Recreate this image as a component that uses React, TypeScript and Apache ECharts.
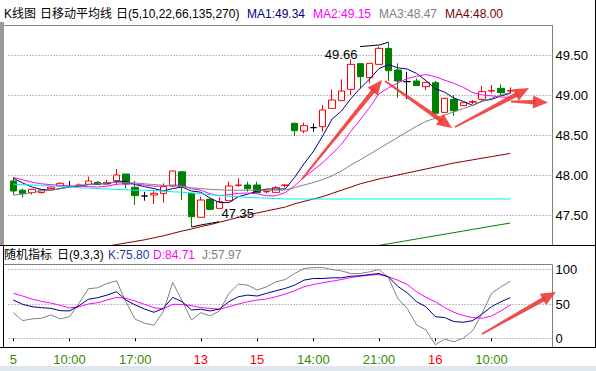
import React, { useEffect, useRef } from "react";
import * as echarts from "echarts";

// ---------- data ----------
const slotCount = 58;
const tickIndex = [0, 6, 13, 20, 26, 32, 39, 45, 51];
const tickText = ["5", "10:00", "17:00", "13", "15", "14:00", "21:00", "16", "10:00"];
const tickIsDate = [false, false, false, true, true, false, false, true, false];

const openP = [47.925, 47.81, 47.78, 47.78, 47.83, 47.862, 47.855, 47.865, 47.884, 47.908, 47.888, 47.929, 48.0125, 47.846, 47.7375,
  47.75, 47.771, 47.8625, 48.04, 47.771, 47.471, 47.696, 47.583, 47.679, 47.87, 47.875, 47.875, 47.79, 47.783, 47.87,
  48.646, 48.55, 48.592, 48.604, 48.833, 48.929, 49.071, 49.392, 49.217, 49.383, 49.583, 49.3125, 49.167,
  49.175, 49.104, 49.154, 48.783, 48.946, 48.867, 48.91, 48.946, 49.05, 49.083, 49.05];
const closeP = [47.80, 47.77, 47.82, 47.8125, 47.85, 47.896, 47.855, 47.875, 47.925, 47.884, 47.908, 48.0, 47.8875, 47.742, 47.7375,
  47.771, 47.854, 48.05, 47.854, 47.479, 47.6875, 47.571, 47.667, 47.8625, 47.875, 47.829, 47.779, 47.796, 47.842, 47.875,
  48.554, 48.617, 48.592, 48.8125, 48.9375, 49.05, 49.383, 49.229, 49.396, 49.583, 49.304, 49.175, 49.167,
  49.117, 49.158, 48.771, 48.958, 48.804, 48.904, 48.917, 49.042, 49.055, 49.029, 49.055];
const lowP = [47.75, 47.72, 47.755, 47.767, 47.83, 47.862, 47.85, 47.855, 47.884, 47.884, 47.888, 47.875, 47.833, 47.625, 47.679,
  47.6375, 47.654, 47.85, 47.6875, 47.35, 47.471, 47.56, 47.583, 47.679, 47.854, 47.792, 47.779, 47.77, 47.783, 47.842,
  48.4875, 48.52, 48.54, 48.54, 48.833, 48.929, 49.0, 49.083, 49.146, 49.383, 49.175, 48.967, 48.95,
  49.117, 49.0625, 48.771, 48.783, 48.7375, 48.867, 48.8875, 48.93, 49.02, 49.0, 49.02];
const highP = [47.97, 47.83, 47.82, 47.8125, 47.86, 47.91, 47.925, 47.895, 47.98, 47.925, 47.9375, 48.075, 48.0125, 47.925, 47.79,
  47.8125, 47.896, 48.05, 48.05, 47.771, 47.729, 47.71, 47.72, 47.917, 47.958, 47.917, 47.917, 47.8125, 47.8625, 47.883,
  48.654, 48.654, 48.646, 48.875, 49.07, 49.196, 49.446, 49.392, 49.396, 49.604, 49.66, 49.396, 49.29,
  49.208, 49.158, 49.175, 48.967, 49.0, 48.904, 48.9375, 49.1125, 49.125, 49.133, 49.096];

const ma5 = [47.96, 47.90, 47.85, 47.82, 47.81, 47.83, 47.85, 47.86, 47.88, 47.89, 47.89, 47.92, 47.92, 47.88, 47.855,
  47.83, 47.80, 47.83, 47.85, 47.80, 47.785, 47.71, 47.655, 47.655, 47.73, 47.76, 47.80, 47.825, 47.825, 47.825,
  47.97, 48.14, 48.295, 48.49, 48.70, 48.80, 48.955, 49.085, 49.20, 49.33, 49.38, 49.34, 49.325,
  49.27, 49.18, 49.08, 49.035, 48.96, 48.92, 48.87, 48.925, 48.945, 48.99, 49.02];
const ma10 = [47.97, 47.94, 47.91, 47.89, 47.88, 47.87, 47.865, 47.86, 47.855, 47.85, 47.86, 47.885, 47.89, 47.885, 47.875,
  47.86, 47.86, 47.875, 47.87, 47.83, 47.81, 47.765, 47.74, 47.755, 47.77, 47.775, 47.765, 47.74, 47.74, 47.78,
  47.865, 47.97, 48.06, 48.155, 48.265, 48.385, 48.545, 48.69, 48.845, 49.015, 49.09, 49.15, 49.205,
  49.235, 49.255, 49.23, 49.185, 49.145, 49.095, 49.03, 49.0, 48.99, 48.975, 48.97];
const ma22 = [47.75, 47.76, 47.78, 47.80, 47.81, 47.83, 47.85, 47.87, 47.88, 47.89, 47.90, 47.91, 47.905, 47.90, 47.89,
  47.88, 47.87, 47.865, 47.855, 47.84, 47.83, 47.82, 47.815, 47.81, 47.81, 47.81, 47.81, 47.81, 47.81, 47.813,
  47.842, 47.875, 47.906, 47.943, 47.99, 48.05, 48.125, 48.19, 48.26, 48.33, 48.40, 48.47, 48.54,
  48.61, 48.67, 48.71, 48.75, 48.79, 48.83, 48.87, 48.92, 48.96, 49.0, 49.03];
const ma66 = [null, null, null, null, null, null, null, null, null, null, 47.11, 47.13, 47.15, 47.17, 47.19,
  47.215, 47.24, 47.27, 47.30, 47.325, 47.355, 47.38, 47.41, 47.44, 47.47, 47.50, 47.525, 47.55, 47.575, 47.60,
  47.64, 47.67, 47.70, 47.73, 47.77, 47.81, 47.85, 47.89, 47.92, 47.95, 47.975, 48.0, 48.025,
  48.05, 48.075, 48.10, 48.125, 48.15, 48.17, 48.19, 48.21, 48.23, 48.25, 48.27];
const ma135 = [47.885, 47.88, 47.875, 47.87, 47.865, 47.86, 47.85, 47.84, 47.835, 47.83, 47.825, 47.82, 47.815, 47.81, 47.81,
  47.805, 47.80, 47.79, 47.785, 47.775, 47.765, 47.755, 47.745, 47.735, 47.73, 47.72, 47.715, 47.71, 47.705, 47.70,
  47.70, 47.70, 47.70, 47.70, 47.70, 47.70, 47.70, 47.70, 47.70, 47.70, 47.70, 47.70, 47.70,
  47.70, 47.70, 47.70, 47.70, 47.70, 47.70, 47.70, 47.70, 47.70, 47.70, 47.70];
const ma270 = [null, null, null, null, null, null, null, null, null, null, null, null, null, null, null,
  null, null, null, null, null, null, null, null, null, null, null, null, null, null, null,
  null, null, null, null, null, 47.04, 47.06, 47.08, 47.10, 47.12, 47.14, 47.16, 47.18,
  47.20, 47.22, 47.24, 47.26, 47.28, 47.30, 47.32, 47.34, 47.36, 47.38, 47.40];

const kLine = [55.8, 49.5, 46.1, 44.7, 43.7, 40.3, 39.9, 47.5, 56.8, 59.2, 63.0, 67.9, 55.8, 48.6, 42.8,
  37.9, 43.7, 59.7, 53.4, 41.3, 42.3, 39.9, 42.8, 53.4, 60.6, 63.0, 61.6, 65.5, 69.3, 72.7,
  77.5, 84.8, 87.2, 87.2, 88.2, 88.2, 90.6, 91.1, 93.0, 94.4, 89.6, 75.8, 66.4,
  53.4, 46.1, 31.6, 30.2, 24.4, 23.4, 25.8, 35.5, 46.1, 53.4, 59.2];
const dLine = [65.5, 61.6, 57.2, 53.9, 51.4, 48.1, 44.3, 45.8, 50.0, 51.9, 55.8, 59.7, 58.2, 54.3, 49.5,
  44.7, 42.8, 49.5, 49.5, 47.6, 44.7, 43.7, 42.3, 46.1, 50.0, 53.4, 55.8, 57.2, 60.6, 64.5,
  69.3, 75.1, 78.5, 80.9, 83.3, 85.7, 88.6, 90.6, 92.0, 93.0, 89.6, 84.7, 78.5,
  67.9, 59.7, 53.4, 44.7, 37.9, 33.1, 30.2, 29.2, 32.6, 39.9, 48.6];
const jLine = [37.4, 25.8, 28.3, 29.2, 34.0, 28.3, 31.6, 51.0, 72.2, 73.7, 80.0, 83.8, 53.4, 27.8, 22.0,
  19.1, 38.9, 81.4, 54.8, 26.8, 37.4, 32.6, 39.9, 65.5, 79.0, 77.5, 70.3, 75.1, 82.4, 85.7,
  94.4, 101.7, 103.1, 103.1, 100.2, 98.3, 94.4, 94.4, 96.9, 100.2, 88.6, 58.0, 43.7,
  19.6, 12.3, -9.4, -1.2, -5.0, 0.2, 11.4, 36.5, 65.5, 75.1, 83.3];

const priceTicks = [47.5, 48, 48.5, 49, 49.5];
const kdjTicks = [0, 50, 100];

const titleMain = [
  { text: "K线图", color: "#000000" },
  { text: "日移动平均线", color: "#000000" },
  { text: "日(5,10,22,66,135,270)", color: "#000000" },
  { text: "MA1:49.34", color: "#000080" },
  { text: "MA2:49.15", color: "#ff00ff" },
  { text: "MA3:48.47", color: "#808080" },
  { text: "MA4:48.00", color: "#800000" },
];
const titleKdj = [
  { text: "随机指标", color: "#000000" },
  { text: "日(9,3,3)", color: "#000000" },
  { text: "K:75.80", color: "#1a3a9a" },
  { text: "D:84.71", color: "#ff00ff" },
  { text: "J:57.97", color: "#808080" },
];

// ---------- layout constants ----------
const FONT = "'Liberation Sans', 'Noto Sans CJK SC', sans-serif";
const GRID_LEFT = 8.6;
const GRID_W = 543.9;
const titleMainX = [4, 40, 116, 247, 313, 379, 445];
const titleKdjX = [4, 57, 108, 153, 202];
const ARROW = "rgba(240,58,58,0.9)";
const arrows = [
  [302, 179, 382, 80],
  [385, 81, 452, 128],
  [455, 127, 529, 88],
  [511, 101.5, 548, 102.5],
  [482, 334, 556, 292],
];

function arrowShapes(x1: number, y1: number, x2: number, y2: number) {
  const dx = x2 - x1, dy = y2 - y1;
  const len = Math.hypot(dx, dy);
  const ux = dx / len, uy = dy / len;
  const nx = -uy, ny = ux;
  const headLen = 15, headHalf = 6.5;
  const bx = x2 - ux * headLen, by = y2 - uy * headLen;
  const sx = x2 - ux * (headLen - 3), sy = y2 - uy * (headLen - 3);
  const w0 = 0.9, w1 = 2.3;
  return [
    {
      type: "polygon", z: 100, silent: true,
      shape: { points: [[x1 + nx * w0, y1 + ny * w0], [sx + nx * w1, sy + ny * w1], [sx - nx * w1, sy - ny * w1], [x1 - nx * w0, y1 - ny * w0]] },
      style: { fill: ARROW },
    },
    {
      type: "polygon", z: 100, silent: true,
      shape: { points: [[x2, y2], [bx + nx * headHalf, by + ny * headHalf], [bx - nx * headHalf, by - ny * headHalf]] },
      style: { fill: ARROW },
    },
  ];
}

function line(x1: number, y1: number, x2: number, y2: number, color: string) {
  return { type: "line", z: 50, silent: true, shape: { x1, y1, x2, y2 }, style: { stroke: color, lineWidth: 1 } };
}

export default function App() {
  const ref = useRef<HTMLDivElement>(null);

  useEffect(() => {
    if (!ref.current) return;
    const chart = echarts.init(ref.current, undefined, { renderer: "svg" });
    const categories = Array.from({ length: slotCount }, (_, i) => String(i));
    const candleData = openP.map((o, i) => [o, closeP[i], lowP[i], highP[i]]);
    const tickSet = new Set(tickIndex);

    const maSeries = (name: string, data: (number | null)[], color: string) => ({
      name, type: "line", xAxisIndex: 0, yAxisIndex: 0, data, showSymbol: false, symbol: "none",
      lineStyle: { color, width: 1 }, z: 5, connectNulls: false,
    });
    const kdjSeries = (name: string, data: number[], color: string) => ({
      name, type: "line", xAxisIndex: 1, yAxisIndex: 1, data, showSymbol: false, symbol: "none",
      lineStyle: { color, width: 1 }, z: 5,
    });

    chart.setOption({
      animation: false,
      backgroundColor: "#ffffff",
      grid: [
        { left: GRID_LEFT, top: 25, width: GRID_W, height: 220 },
        { left: GRID_LEFT, top: 264.5, width: GRID_W, height: 83.2 },
      ],
      xAxis: [
        {
          type: "category", gridIndex: 0, data: categories, boundaryGap: true,
          axisLine: { show: false }, axisTick: { show: false }, axisLabel: { show: false }, splitLine: { show: false },
        },
        {
          type: "category", gridIndex: 1, data: categories, boundaryGap: true,
          axisLine: { show: false },
          axisTick: { show: true, interval: (i: number) => tickSet.has(i), alignWithLabel: true, length: 3, lineStyle: { color: "#000" } },
          axisLabel: {
            interval: (i: number) => tickSet.has(i),
            margin: 5,
            formatter: (_v: string, i: number) => {
              const k = tickIndex.indexOf(i);
              if (k < 0) return "";
              return `{${tickIsDate[k] ? "r" : "g"}|${tickText[k]}}`;
            },
            rich: {
              g: { color: "#3a8a00", fontSize: 13, fontFamily: FONT },
              r: { color: "#ff0000", fontSize: 13, fontFamily: FONT },
            },
          },
          splitLine: { show: false },
        },
      ],
      yAxis: [
        {
          type: "value", gridIndex: 0, position: "right", min: 47.125, max: 49.875,
          axisLine: { show: false },
          axisTick: { show: false, customValues: priceTicks },
          axisLabel: { customValues: priceTicks, formatter: (v: number) => v.toFixed(2), color: "#000", fontSize: 13, fontFamily: FONT, margin: 3 },
          splitLine: { show: true, lineStyle: { color: "#808080", type: [1, 2], width: 1 } },
        },
        {
          type: "value", gridIndex: 1, position: "right", min: -13.7, max: 107.6,
          axisLine: { show: false },
          axisTick: { show: false, customValues: kdjTicks },
          axisLabel: { customValues: kdjTicks, color: "#000", fontSize: 13, fontFamily: FONT, margin: 3 },
          splitLine: { show: true, lineStyle: { color: "#808080", type: [1, 2], width: 1 } },
        },
      ],
      series: [
        {
          name: "K", type: "candlestick", xAxisIndex: 0, yAxisIndex: 0, data: candleData, barWidth: 7, z: 3,
          itemStyle: {
            color: "#ffffff", color0: "#008000", borderColor: "#ff0000", borderColor0: "#008000",
            borderColorDoji: "#000000", borderWidth: 1,
          },
        },
        maSeries("MA5", ma5, "#000080"),
        maSeries("MA10", ma10, "#ff00ff"),
        maSeries("MA22", ma22, "#808080"),
        maSeries("MA66", ma66, "#800000"),
        maSeries("MA135", ma135, "#00f0f0"),
        maSeries("MA270", ma270, "#008000"),
        kdjSeries("J", jLine, "#808080"),
        kdjSeries("D", dLine, "#ff00ff"),
        kdjSeries("K", kLine, "#000080"),
      ],
    });

    // annotations anchored on data
    let hiIdx = 0, loIdx = 0;
    highP.forEach((v, i) => { if (v > highP[hiIdx]) hiIdx = i; });
    lowP.forEach((v, i) => { if (v < lowP[loIdx]) loIdx = i; });
    const hp = chart.convertToPixel({ xAxisIndex: 0, yAxisIndex: 0 }, [hiIdx, highP[hiIdx]]) as number[];
    const lp = chart.convertToPixel({ xAxisIndex: 0, yAxisIndex: 0 }, [loIdx, lowP[loIdx]]) as number[];

    const graphics: any[] = [];
    // frames
    graphics.push({ type: "rect", z: 50, silent: true, shape: { x: 0, y: 22, width: 4, height: 223 }, style: { fill: "#9a9a9a" } });
    graphics.push(line(4, 25.5, 552.5, 25.5, "#808080"));
    graphics.push(line(552.5, 25, 552.5, 245, "#808080"));
    graphics.push(line(0, 245.5, 596, 245.5, "#000000"));
    graphics.push(line(3.5, 245, 3.5, 348, "#000000"));
    graphics.push(line(3.5, 264.5, 552.5, 264.5, "#808080"));
    graphics.push(line(552.5, 264.5, 552.5, 348, "#808080"));
    graphics.push(line(0, 347.5, 596, 347.5, "#000000"));
    graphics.push(line(595.5, 0, 595.5, 348, "#000000"));
    graphics.push({ type: "rect", z: 50, silent: true, shape: { x: 0, y: 366, width: 596, height: 5 }, style: { fill: "#dfe6ee" } });

    // titles
    titleMain.forEach((t, i) => graphics.push({
      type: "text", z: 60, silent: true, x: titleMainX[i], y: 14,
      style: { text: t.text, fill: t.color, fontSize: 12, fontFamily: FONT, verticalAlign: "middle", align: "left" },
    }));
    titleKdj.forEach((t, i) => graphics.push({
      type: "text", z: 60, silent: true, x: titleKdjX[i], y: 255,
      style: { text: t.text, fill: t.color, fontSize: 12, fontFamily: FONT, verticalAlign: "middle", align: "left" },
    }));

    // high / low markers
    graphics.push({
      type: "polyline", z: 60, silent: true,
      shape: { points: [[hp[0], hp[1]], [hp[0] - 8.3, hp[1] + 2.7], [hp[0] - 28.3, hp[1] + 4.4]] },
      style: { stroke: "#000", lineWidth: 1, fill: null },
    });
    graphics.push({
      type: "text", z: 60, silent: true, x: hp[0] - 31, y: hp[1] + 12.7,
      style: { text: highP[hiIdx].toFixed(2), fill: "#000", fontSize: 13, fontFamily: FONT, verticalAlign: "middle", align: "right" },
    });
    graphics.push({
      type: "polyline", z: 60, silent: true,
      shape: { points: [[lp[0], lp[1]], [lp[0] + 9.4, lp[1] - 2], [lp[0] + 27.7, lp[1] - 5.3]] },
      style: { stroke: "#000", lineWidth: 1, fill: null },
    });
    graphics.push({
      type: "text", z: 60, silent: true, x: lp[0] + 30, y: lp[1] - 14,
      style: { text: lowP[loIdx].toFixed(2), fill: "#000", fontSize: 13, fontFamily: FONT, verticalAlign: "middle", align: "left" },
    });

    arrows.forEach(([a, b, c, d]) => graphics.push(...arrowShapes(a, b, c, d)));

    chart.setOption({ graphic: graphics });

    return () => chart.dispose();
  }, []);

  return (
    <div
      ref={ref}
      style={{ position: "fixed", left: 0, top: 0, width: 596, height: 371, background: "#fff" }}
    />
  );
}
